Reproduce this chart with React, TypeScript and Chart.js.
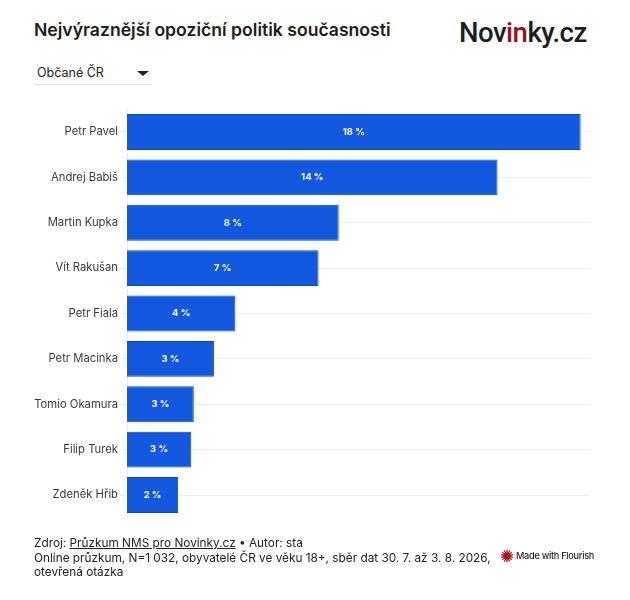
import React, { useEffect, useRef } from 'react';
import { Chart, registerables } from 'chart.js';

Chart.register(...registerables);

// Names and rounded labels as printed
const politicians = [
  'Petr Pavel',
  'Andrej Babiš',
  'Martin Kupka',
  'Vít Rakušan',
  'Petr Fiala',
  'Petr Macinka',
  'Tomio Okamura',
  'Filip Turek',
  'Zdeněk Hřib',
];
const shares = [18.0, 14.7, 8.4, 7.6, 4.3, 3.45, 2.65, 2.55, 2.03];
const shareLabels = ['18 %', '14 %', '8 %', '7 %', '4 %', '3 %', '3 %', '3 %', '2 %'];
const axisMax = 18.41;

const FONT = 'Inter, "Noto Sans", sans-serif';

// White value labels in the middle of each bar
const barLabels = {
  id: 'barLabels',
  afterDatasetsDraw(chart: Chart) {
    const { ctx } = chart;
    ctx.save();
    ctx.fillStyle = '#ffffff';
    ctx.font = `700 9.5px ${FONT}`;
    ctx.textAlign = 'center';
    ctx.textBaseline = 'middle';
    chart.getDatasetMeta(0).data.forEach((bar: any, i: number) => {
      const { x, y, base } = bar.getProps(['x', 'y', 'base'], true);
      ctx.fillText(shareLabels[i], (x + base) / 2, y);
    });
    ctx.restore();
  },
};

const FlourishMark: React.FC = () => {
  const rays = Array.from({ length: 14 }, (_, i) => (i * 360) / 14);
  return (
    <svg width="14" height="14" viewBox="0 0 14 14" style={{ position: 'absolute', left: 500, top: 549 }}>
      <circle cx="7" cy="7" r="3.6" fill="#b5121b" />
      {rays.map((deg) => (
        <line
          key={deg}
          x1="7"
          y1="1"
          x2="7"
          y2="13"
          stroke="#b5121b"
          strokeWidth="0.9"
          transform={`rotate(${deg} 7 7)`}
        />
      ))}
    </svg>
  );
};

const App: React.FC = () => {
  const chartRef = useRef<HTMLCanvasElement>(null);

  useEffect(() => {
    if (!chartRef.current) return;

    const chart = new Chart(chartRef.current, {
      type: 'bar',
      data: {
        labels: politicians,
        datasets: [
          {
            data: shares,
            backgroundColor: '#1259e0',
            borderColor: '#0d46c4',
            borderWidth: 1,
            categoryPercentage: 1,
            barPercentage: 0.79,
          },
        ],
      },
      options: {
        indexAxis: 'y',
        responsive: false,
        animation: false,
        layout: { padding: { top: 9.3, right: 39, bottom: 22.3, left: 0 } },
        plugins: { legend: { display: false }, tooltip: { enabled: false } },
        scales: {
          x: { display: false, min: 0, max: axisMax },
          y: {
            afterFit: (scale: any) => {
              scale.width = 127;
            },
            grid: {
              offset: false,
              color: '#ececec',
              lineWidth: 1,
              tickLength: 7,
              drawOnChartArea: true,
            },
            border: { color: '#ececec' },
            ticks: {
              color: '#3a3a3a',
              font: { family: FONT, size: 11.25 },
              padding: 2,
            },
          },
        },
      },
      plugins: [barLabels],
    });

    return () => chart.destroy();
  }, []);

  return (
    <div style={{ position: 'relative', width: 630, height: 600, background: '#fff', fontFamily: FONT, overflow: 'hidden' }}>
      <style>{'body { margin: 0; }'}</style>
      <div style={{ position: 'absolute', left: 34, top: 19, fontSize: 17.6, fontWeight: 600, color: '#1c1c1c', lineHeight: '22px', whiteSpace: 'nowrap' }}>
        Nejvýraznější opoziční politik současnosti
      </div>
      <div style={{ position: 'absolute', left: 459, top: 16, fontSize: 27.5, fontWeight: 500, color: '#1d1d1f', lineHeight: '34px', letterSpacing: -0.5, whiteSpace: 'nowrap', fontFamily: 'Roboto, sans-serif' }}>
        Nov<span style={{ color: '#8e1422' }}>in</span>ky.cz
      </div>

      <div style={{ position: 'absolute', left: 34, top: 61, width: 118, height: 23, borderBottom: '1px solid #dddddd' }}>
        <span style={{ position: 'absolute', left: 3, top: 4, fontSize: 12.5, color: '#222', lineHeight: '16px' }}>Občané ČR</span>
        <span style={{ position: 'absolute', left: 103, top: 10, width: 0, height: 0, borderLeft: '6px solid transparent', borderRight: '6px solid transparent', borderTop: '5px solid #222' }} />
      </div>

      <canvas ref={chartRef} width={630} height={440} style={{ position: 'absolute', left: 0, top: 100, display: 'block' }} />

      <div style={{ position: 'absolute', left: 34, top: 536, width: 470, fontSize: 11.8, lineHeight: '14.5px', color: '#222' }}>
        <div style={{ whiteSpace: 'nowrap' }}>
          Zdroj: <span style={{ textDecoration: 'underline' }}>Průzkum NMS pro Novinky.cz</span> • Autor: sta
        </div>
        <div style={{ whiteSpace: 'nowrap' }}>Online průzkum, N=1 032, obyvatelé ČR ve věku 18+, sběr dat 30. 7. až 3. 8. 2026,</div>
        <div style={{ whiteSpace: 'nowrap' }}>otevřená otázka</div>
      </div>

      <FlourishMark />
      <div style={{ position: 'absolute', left: 516, top: 549, fontSize: 9.2, lineHeight: '14px', fontWeight: 500, color: '#2a2a2a', letterSpacing: -0.3, whiteSpace: 'nowrap' }}>
        Made with Flourish
      </div>
    </div>
  );
};

export default App;
